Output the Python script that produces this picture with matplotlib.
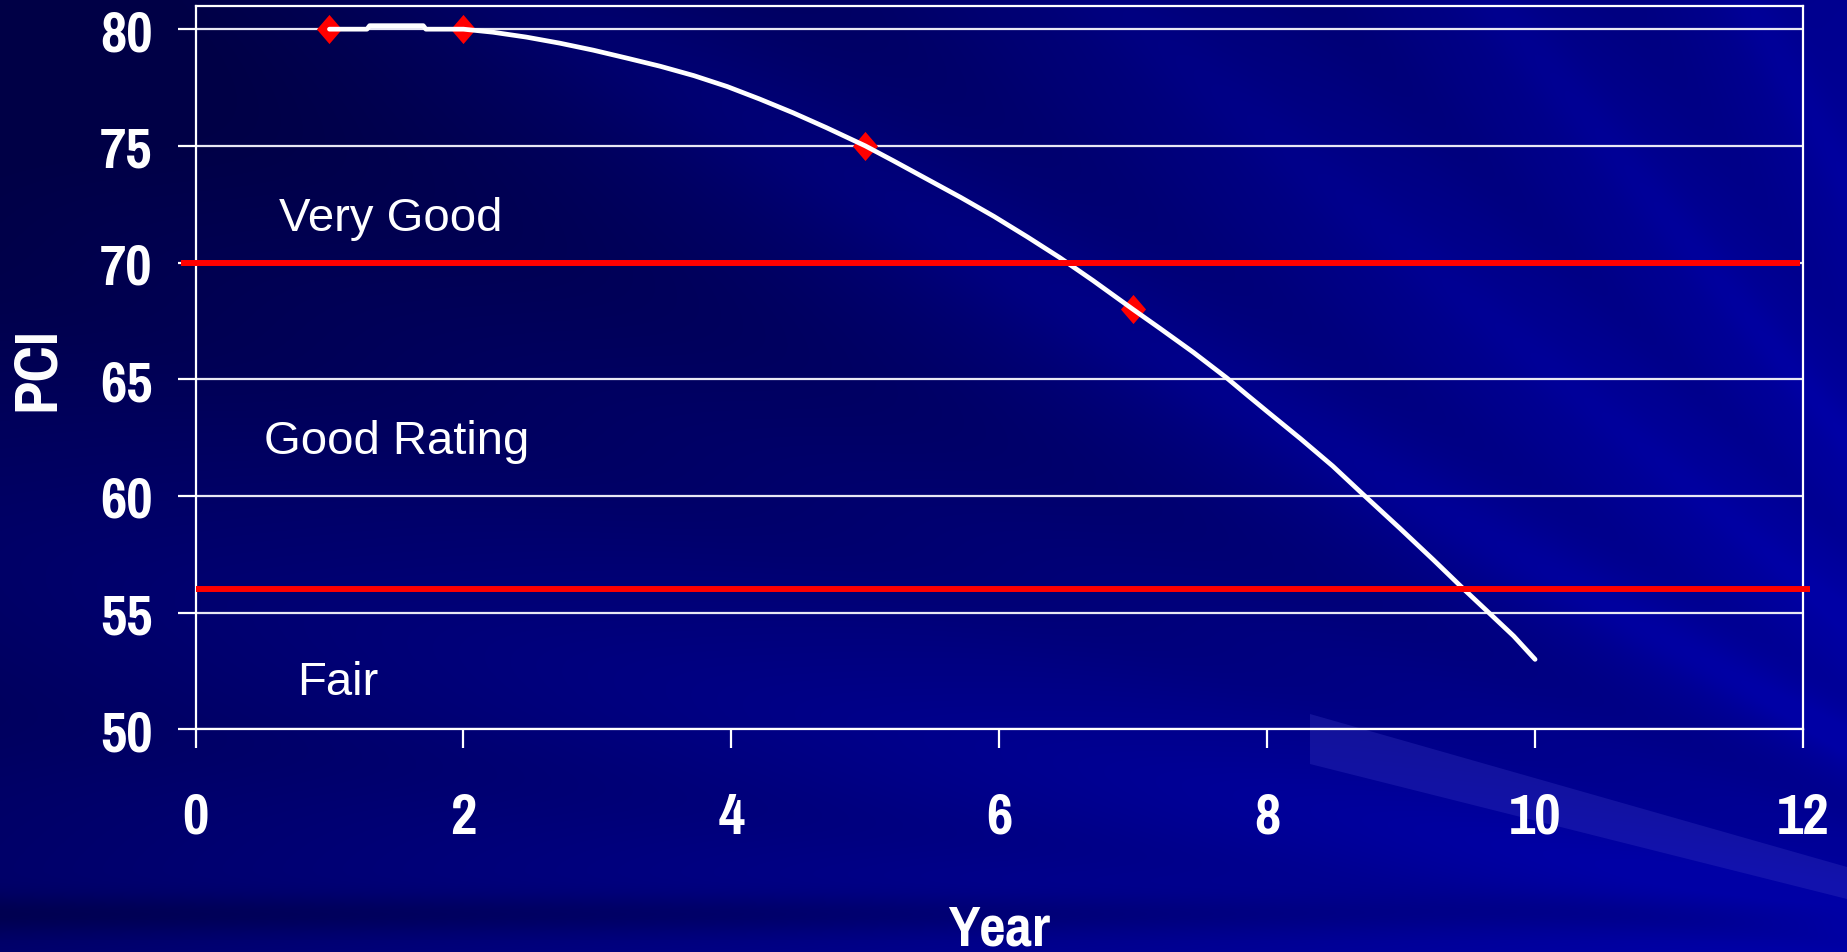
import numpy as np
import matplotlib
matplotlib.use("Agg")
import matplotlib.pyplot as plt
from matplotlib import font_manager
from matplotlib.path import Path
from matplotlib.patches import Polygon

# ---- data -------------------------------------------------------------
# Smoothed PCI deterioration curve
curve_years = [1.0, 1.28, 1.30, 1.70, 1.72, 2.0, 2.22, 2.47, 2.72, 2.97,
               3.22, 3.47, 3.72, 3.97, 4.21, 4.46, 4.71, 5.0, 5.21, 5.46,
               5.71, 5.96, 6.21, 6.45, 6.70, 7.0, 7.20, 7.45, 7.70, 7.85,
               8.0, 8.25, 8.49, 8.71, 8.99, 9.24, 9.46, 9.64, 9.84, 10.0]
curve_pci = [80.0, 80.0, 80.15, 80.15, 80.0, 80.0, 79.87, 79.66, 79.40, 79.10,
             78.76, 78.41, 78.01, 77.54, 77.01, 76.42, 75.78, 75.0, 74.36,
             73.58, 72.80, 71.98, 71.10, 70.22, 69.23, 67.99, 67.18, 66.15,
             65.05, 64.33, 63.62, 62.45, 61.28, 60.10, 58.62, 57.27, 56.05,
             55.08, 54.0, 53.0]

# Surveyed PCI values
survey_years = [1, 2, 5, 7]
survey_pci = [80, 80, 75, 68]

# Rating thresholds and zone names
upper_threshold = 70
lower_threshold = 56
zone_names = ["Very Good", "Good Rating", "Fair"]

x_ticks = [0, 2, 4, 6, 8, 10, 12]
y_ticks = [50, 55, 60, 65, 70, 75, 80]


# ---- fonts ------------------------------------------------------------
def pick(*names):
    for n in names:
        try:
            font_manager.findfont(font_manager.FontProperties(family=n),
                                  fallback_to_default=False)
            return n
        except ValueError:
            pass
    return "DejaVu Sans"


narrow = pick("Liberation Sans Narrow", "Arial Narrow", "Pragati Narrow",
              "Roboto Condensed", "Archivo Narrow", "Liberation Sans")
regular = pick("Liberation Sans", "DejaVu Sans")
big = 45 if narrow != "Liberation Sans" else 36

# ---- figure & background ---------------------------------------------
W, H = 1847, 953
fig = plt.figure(figsize=(W / 100, H / 100), dpi=100)

bg = fig.add_axes([0, 0, 1, 1], zorder=-10)
bg.set_xlim(0, W)
bg.set_ylim(H, 0)
bg.axis("off")
yy, xx = np.mgrid[0:H, 0:W].astype(float)
u = xx / W
v = yy / H
blue = 82 + 62 * u + 26 * v
# rays fanning out from a point beyond the lower right corner
phi = np.degrees(np.arctan2(1000 - yy, 2300 - xx))
rays = [(23.0, 4.5, -22), (17.0, 2.5, -10), (29.5, 1.8, 9), (34.0, 2.5, -10),
        (40.0, 1.5, 8), (45.5, 2.0, -9), (51.0, 1.4, 10), (56.0, 2.2, -8),
        (61.0, 1.3, 10), (11.0, 2.0, 6), (7.0, 1.5, -6)]
for c, w, amp in rays:
    blue += amp * np.exp(-((phi - c) / w) ** 2)
# darker strip along the bottom edge
blue -= 26 * np.exp(-((yy - 915) / 20.0) ** 2) * np.clip(1.4 - u, 0, 1)
blue = np.clip(blue, 70, 165)
img = np.zeros((H, W, 3))
img[..., 2] = blue / 255.0
bg.imshow(img, extent=(0, W, H, 0), aspect="auto", interpolation="bilinear")

# pale streak across the lower right
bg.add_patch(Polygon([(1310, 715), (1847, 868), (1847, 900), (1310, 765)],
                     closed=True, facecolor="#3838c0", edgecolor="none",
                     alpha=0.33))

# ---- chart ------------------------------------------------------------
left, right = 195.5 / W, 1803 / W
bottom, top = (H - 730.4) / H, (H - 7.3) / H
ax = fig.add_axes([left, bottom, right - left, top - bottom])
ax.patch.set_alpha(0)
ax.set_xlim(0, 12)
ax.set_ylim(50, 80.98)

for s in ax.spines.values():
    s.set_color("white")
    s.set_linewidth(1.6)

ax.set_xticks(x_ticks)
ax.set_yticks(y_ticks)
ax.tick_params(axis="y", direction="out", length=13, width=1.6, color="white",
               pad=18)
ax.tick_params(axis="x", direction="out", length=14, width=1.6, color="white",
               pad=30)
for lab in ax.get_xticklabels() + ax.get_yticklabels():
    lab.set_fontfamily(narrow)
    lab.set_fontweight("bold")
    lab.set_fontsize(big)
    lab.set_color("white")

ax.yaxis.grid(True, color="#e8e8f4", linewidth=1.6)
ax.set_axisbelow(True)

diamond = Path([(0, 1), (0.86, 0), (0, -1), (-0.86, 0), (0, 1)],
               [Path.MOVETO, Path.LINETO, Path.LINETO, Path.LINETO,
                Path.CLOSEPOLY])
ax.plot(survey_years, survey_pci, ls="none", marker=diamond, ms=21,
        color="#ff0000", mec="none", zorder=3, clip_on=False)
ax.plot(curve_years, curve_pci, color="white", lw=3.4,
        solid_capstyle="round", solid_joinstyle="round", zorder=4)

ax.plot([-0.11, 11.98], [upper_threshold] * 2, color="#ff0000", lw=4.3,
        solid_capstyle="butt", clip_on=False, zorder=5)
ax.plot([0.0, 12.05], [lower_threshold] * 2, color="#ff0000", lw=4.3,
        solid_capstyle="butt", clip_on=False, zorder=5)

zone_x = [0.623, 0.511, 0.757]
zone_y = [71.38, 61.83, 51.52]
for name, zx, zy in zip(zone_names, zone_x, zone_y):
    ax.text(zx, zy, name, ha="left", va="baseline", color="white",
            fontfamily=regular, fontsize=34, zorder=6)

ax.set_xlabel("Year", fontfamily=narrow, fontweight="bold", fontsize=big,
              color="white", va="baseline")
ax.xaxis.set_label_coords(0.5, (730.4 - 946) / 723.1)
ax.set_ylabel("PCI", fontfamily=narrow, fontweight="bold", fontsize=big + 3,
              color="white", va="center")
ax.yaxis.set_label_coords((37 - 195.5) / 1607.5, 0.5)

fig.savefig("out.png", dpi=100, facecolor="#000080")
